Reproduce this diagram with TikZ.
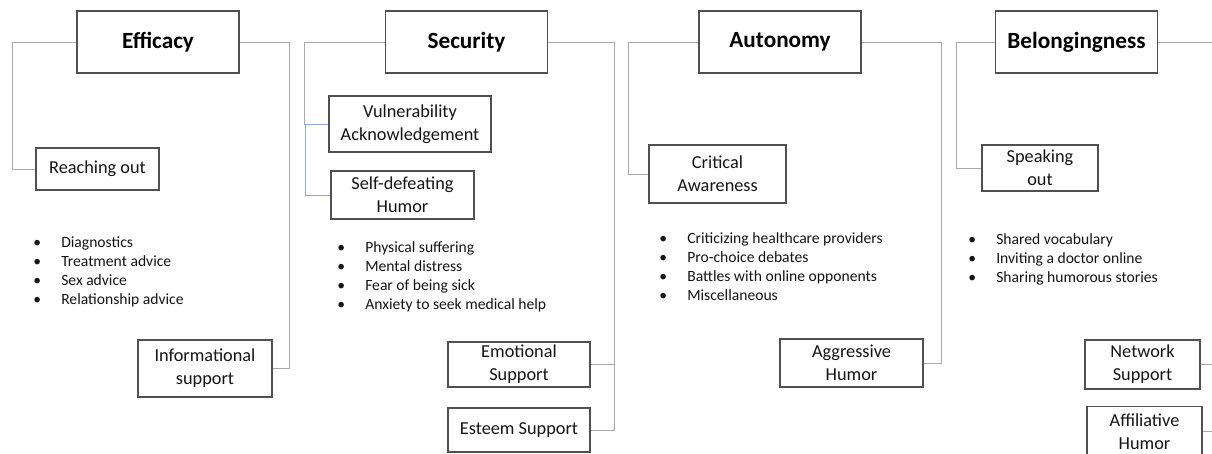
\documentclass[tikz,border=0pt]{standalone}
\usepackage{fontspec}
\setmainfont{Carlito}
\usetikzlibrary{positioning}

\definecolor{boxline}{RGB}{80,80,80}
\definecolor{linkgray}{RGB}{170,170,170}
\definecolor{linkblue}{RGB}{140,170,222}
\definecolor{inktext}{RGB}{20,20,20}

\newcommand{\itm}{\makebox[0.7cm][l]{\textbullet}}

\begin{document}
\begin{tikzpicture}[x=0.025cm, y=-0.025cm,
  theme/.style={rectangle, draw=boxline, line width=0.9pt, minimum width=4.05cm, minimum height=1.55cm,
    font=\fontsize{16.5}{19}\selectfont\bfseries},
  code/.style={rectangle, draw=boxline, line width=0.9pt, align=center, text=inktext, inner sep=2pt,
    font=\fontsize{13}{16.5}\selectfont},
  items/.style={anchor=north west, align=left, inner sep=0pt, text=inktext,
    font=\fontsize{11.1}{13.4}\selectfont},
  link/.style={draw=linkgray, line width=0.7pt},
  bluelink/.style={draw=linkblue, line width=0.7pt}]
\useasboundingbox (0,0) rectangle (1212,454);
\clip (0,0) rectangle (1212,454);

% the four themes
\node[theme] (efficacy) at (158,42) {Efficacy};
\node[theme] (security) at (466.5,42) {Security};
\node[theme] (autonomy) at (780,42) {Autonomy};
\node[theme] (belong) at (1076.5,42) {Belongingness};

% efficacy
\node[code, minimum width=3.075cm, minimum height=1.05cm] (reach) at (97.5,169) {Reaching out};
\node[code, minimum width=3.35cm, minimum height=1.425cm] (info) at (205,368.5) {Informational\\support};
\node[items] (effitems) at (33,236.5) {\itm Diagnostics\\\itm Treatment advice\\\itm Sex advice\\\itm Relationship advice};

% security
\node[code, minimum width=4.05cm, minimum height=1.4cm] (vuln) at (410,124) {Vulnerability\\Acknowledgement};
\node[code, minimum width=3.575cm, minimum height=1.2cm] (selfdef) at (402.5,195) {Self-defeating\\Humor};
\node[code, minimum width=3.55cm, minimum height=1.125cm] (emotional) at (519,364.5) {Emotional\\Support};
\node[code, minimum width=3.55cm, minimum height=1.1cm] (esteem) at (519,430) {Esteem Support};
\node[items] (secitems) at (337,241.5) {\itm Physical suffering\\\itm Mental distress\\\itm Fear of being sick\\\itm Anxiety to seek medical help};

% autonomy
\node[code, minimum width=3.425cm, minimum height=1.45cm] (critical) at (717.5,174) {Critical\\Awareness};
\node[code, minimum width=3.575cm, minimum height=1.2cm] (aggressive) at (851.5,363) {Aggressive\\Humor};
\node[items] (autitems) at (659,232.5) {\itm Criticizing healthcare providers\\\itm Pro-choice debates\\\itm Battles with online opponents\\\itm Miscellaneous};

% belongingness
\node[code, minimum width=2.9cm, minimum height=1.15cm] (speaking) at (1040,168) {Speaking\\out};
\node[code, minimum width=2.875cm, minimum height=1.225cm] (network) at (1142.5,364.5) {Network\\Support};
\node[code, minimum width=2.875cm, minimum height=1.25cm] (affiliative) at (1144.5,431.5) {Affiliative\\Humor};
\node[items] (belitems) at (968,233.5) {\itm Shared vocabulary\\\itm Inviting a doctor online\\\itm Sharing humorous stories};

% connectors
\draw[link] (efficacy.west) -- ++(-64,0) |- (reach.west);
\draw[link] (efficacy.east) -- ++(50,0) |- (info.east);

\draw[link] (security.west) -- ++(-80,0) |- (vuln.west);
\draw[bluelink] (vuln.west) -- ++(-23,0) |- (selfdef.west);
\draw[link] (security.east) -- ++(66,0) |- (esteem.east);
\draw[link] (emotional.east) -- ++(23,0);

\draw[link] (autonomy.west) -- ++(-70,0) |- (critical.west);
\draw[link] (autonomy.east) -- ++(80,0) |- (aggressive.east);

\draw[link] (belong.west) -- ++(-38,0) |- (speaking.west);
\draw[link] (belong.east) -- ++(80,0) |- (affiliative.east);
\draw[link] (network.east) -- ++(40,0);
\end{tikzpicture}
\end{document}
